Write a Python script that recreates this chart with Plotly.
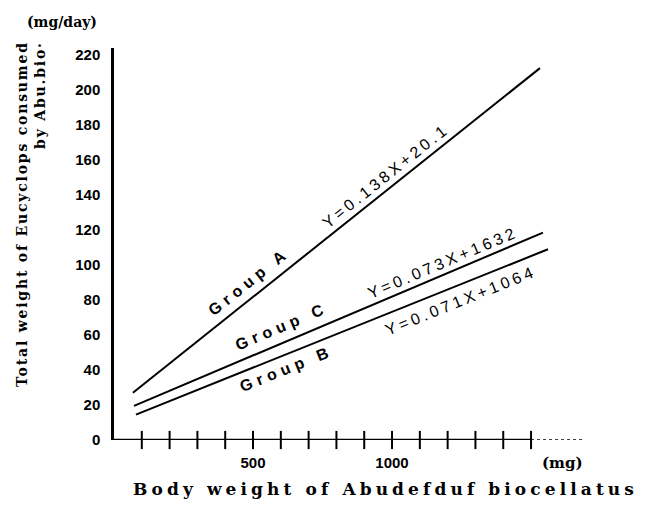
import plotly.graph_objects as go

# Data (line endpoints, x in mg, y in mg/day)
groups = ["Group A", "Group C", "Group B"]
x_start = [68, 72, 79]
x_end = [1532, 1543, 1561]
y_start = [27.0, 19.5, 14.5]
y_end = [212.5, 118.5, 109.0]
equations = ["Y=0.138X+20.1", "Y=0.073X+1632", "Y=0.071X+1064"]

x_minor_ticks = [100, 200, 300, 400, 500, 600, 700, 800, 900, 1000, 1100, 1200, 1300, 1400, 1500]
x_tick_labels = [500, 1000]
y_ticks = [0, 20, 40, 60, 80, 100, 120, 140, 160, 180, 200, 220]
axis_solid_end = 1500
axis_dotted_end = 1690

fig = go.Figure()

for g, xs, xe, ys, ye in zip(groups, x_start, x_end, y_start, y_end):
    fig.add_trace(go.Scatter(x=[xs, xe], y=[ys, ye], mode="lines",
                             line=dict(color="black", width=2), name=g,
                             hoverinfo="skip"))

# x axis line: solid then dotted
fig.add_trace(go.Scatter(x=[0, axis_solid_end], y=[0, 0], mode="lines",
                         line=dict(color="black", width=2.5), hoverinfo="skip"))
fig.add_trace(go.Scatter(x=[axis_solid_end, axis_dotted_end], y=[0, 0], mode="lines",
                         line=dict(color="black", width=1.5, dash="dot"), hoverinfo="skip"))
# crossing ticks
fig.add_trace(go.Scatter(x=x_minor_ticks, y=[0] * len(x_minor_ticks), mode="markers",
                         marker=dict(symbol="line-ns", size=13,
                                     line=dict(color="black", width=2)),
                         hoverinfo="skip", cliponaxis=False))

# page body has an 8px margin, so the figure is shifted by 8px
fig.update_layout(
    width=642, height=504,
    margin=dict(l=106, r=50, t=40, b=72, autoexpand=False),
    plot_bgcolor="white", paper_bgcolor="white",
    showlegend=False, hovermode=False,
    xaxis=dict(range=[0, 1748], tickvals=x_tick_labels, ticks="",
               showgrid=False, zeroline=False, showline=False,
               ticklabelstandoff=12, automargin=False,
               tickfont=dict(family="Liberation Sans", size=15, color="black", weight="bold"),
               fixedrange=True),
    yaxis=dict(range=[0, 224], tickvals=y_ticks, ticks="",
               showgrid=False, zeroline=False, showline=True,
               linecolor="black", linewidth=2.5,
               ticklabelstandoff=8, automargin=False,
               tickfont=dict(family="Liberation Sans", size=15, color="black", weight="bold"),
               fixedrange=True),
)

def spaced(t, s):
    return f'<span style="letter-spacing:{s}px">{t}</span>'

sans = "Liberation Sans"
serif = "DejaVu Serif"

# in-plot labels: (text, x, y, angle, spacing, bold)
labels = [
    (groups[0], 486, 90.3, -38.6, 5, True),
    (equations[0], 978, 151.4, -38.6, 3.5, False),
    (groups[1], 601, 65.1, -22.9, 5, True),
    (equations[1], 1183, 101.7, -22.9, 3.5, False),
    (groups[2], 622, 40.6, -21.9, 5, True),
    (equations[2], 1248, 80.0, -21.9, 3.5, False),
]
for t, x, y, a, s, b in labels:
    txt = spaced(f"<b>{t}</b>" if b else t, s)
    fig.add_annotation(x=x, y=y, xref="x", yref="y", text=txt, showarrow=False,
                       textangle=a, font=dict(family=sans, size=16, color="black"))

# axis titles and units (paper coords computed from reference pixel positions)
def px_x(p):
    return (p - 114) / 486

def px_y(p):
    return (440 - p) / 392

fig.add_annotation(x=px_x(385), y=px_y(489), xref="paper", yref="paper",
                   xanchor="center", yanchor="middle",
                   text=spaced("<b>Body weight of Abudefduf biocellatus</b>", 4.1),
                   showarrow=False, font=dict(family=serif, size=17, color="black"))
fig.add_annotation(x=1612, y=0, xref="x", yref="y", yshift=-23,
                   xanchor="center", yanchor="middle",
                   text="<b>(mg)</b>", showarrow=False,
                   font=dict(family=serif, size=15, color="black"))
fig.add_annotation(x=px_x(62), y=px_y(22), xref="paper", yref="paper",
                   xanchor="center", yanchor="middle",
                   text="<b>(mg/day)</b>", showarrow=False,
                   font=dict(family=serif, size=14, color="black"))
fig.add_annotation(x=px_x(31), y=px_y(39), xref="paper", yref="paper",
                   xanchor="center", yanchor="top", align="right",
                   text=spaced("<b>Total weight of Eucyclops consumed<br>by Abu.bio\u00b7</b>", 1.8),
                   textangle=-90, showarrow=False,
                   font=dict(family=serif, size=14, color="black"))

fig.write_html("out.html")
